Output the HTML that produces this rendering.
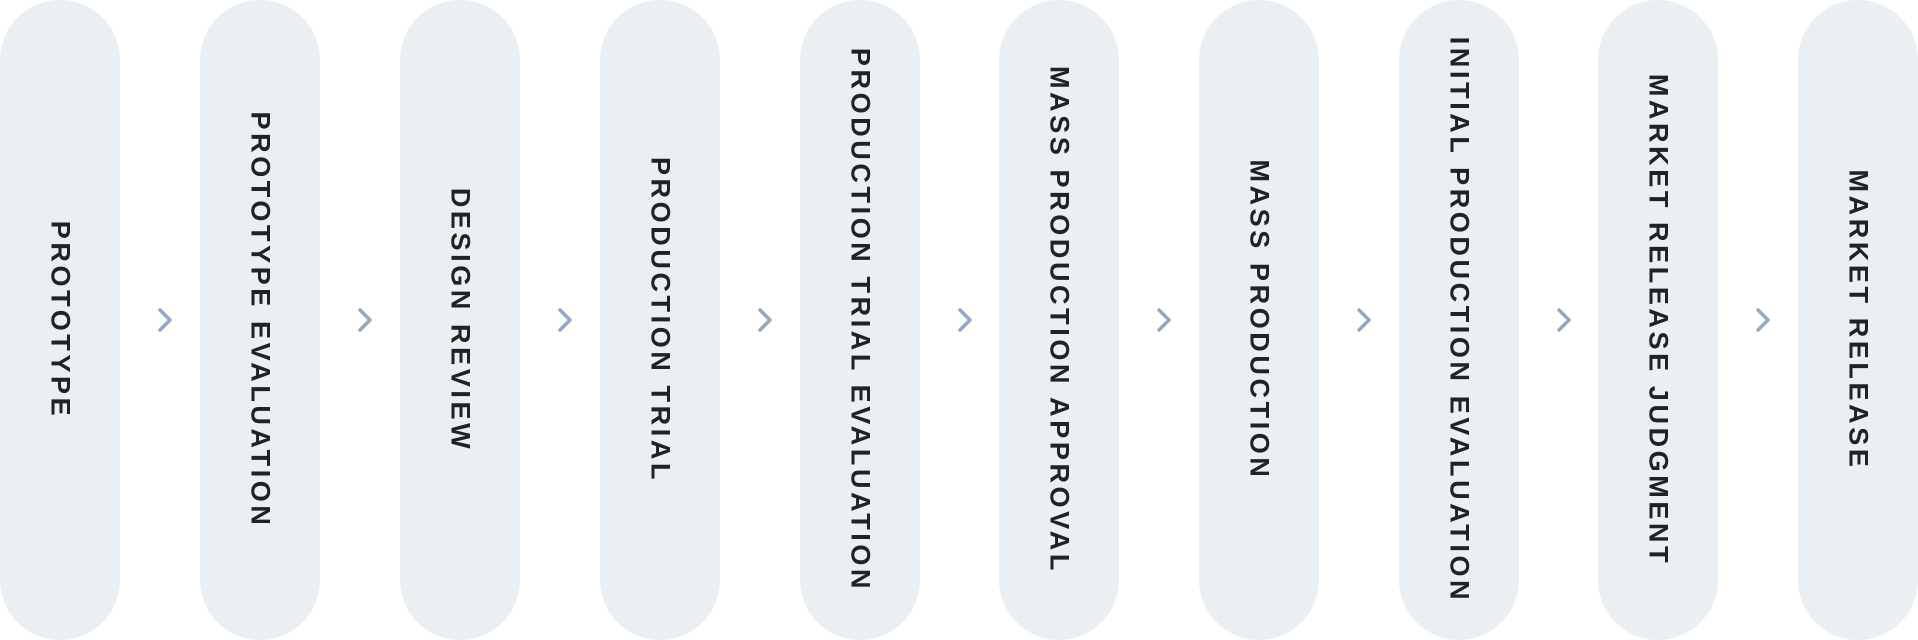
<!DOCTYPE html>
<html><head><style>
body{margin:0;width:1918px;height:640px;background:#fff;position:relative;overflow:hidden;font-family:"Liberation Sans",sans-serif}
.p{position:absolute;top:0;width:120px;height:640px;border-radius:60px;background:#e9eff2}
.t{position:absolute;left:60px;top:320px;transform:translate(-50%,-50%) rotate(90deg);white-space:nowrap;font-weight:bold;font-size:27px;letter-spacing:3.6px;color:#222}
</style></head><body>
<div class="p" style="left:0"><div class="t">PROTOTYPE</div></div>
<div class="p" style="left:200px"><div class="t">PROTOTYPE EVALUATION</div></div>
<div class="p" style="left:400px"><div class="t">DESIGN REVIEW</div></div>
<div class="p" style="left:600px"><div class="t">PRODUCTION TRIAL</div></div>
<div class="p" style="left:800px"><div class="t">PRODUCTION TRIAL EVALUATION</div></div>
<div class="p" style="left:999px"><div class="t">MASS PRODUCTION APPROVAL</div></div>
<div class="p" style="left:1199px"><div class="t">MASS PRODUCTION</div></div>
<div class="p" style="left:1399px"><div class="t">INITIAL PRODUCTION EVALUATION</div></div>
<div class="p" style="left:1598px"><div class="t">MARKET RELEASE JUDGMENT</div></div>
<div class="p" style="left:1798px"><div class="t">MARKET RELEASE</div></div>
<svg width="1918" height="640" style="position:absolute;left:0;top:0">
<g fill="none" stroke="#94a9bd" stroke-width="3.5" stroke-linecap="round" stroke-linejoin="round">
<polyline points="160,310 170,320 160,330"/>
<polyline points="360,310 370,320 360,330"/>
<polyline points="560,310 570,320 560,330"/>
<polyline points="760,310 770,320 760,330"/>
<polyline points="960,310 970,320 960,330"/>
<polyline points="1159,310 1169,320 1159,330"/>
<polyline points="1359,310 1369,320 1359,330"/>
<polyline points="1559,310 1569,320 1559,330"/>
<polyline points="1758,310 1768,320 1758,330"/>
</g></svg>
</body></html>
